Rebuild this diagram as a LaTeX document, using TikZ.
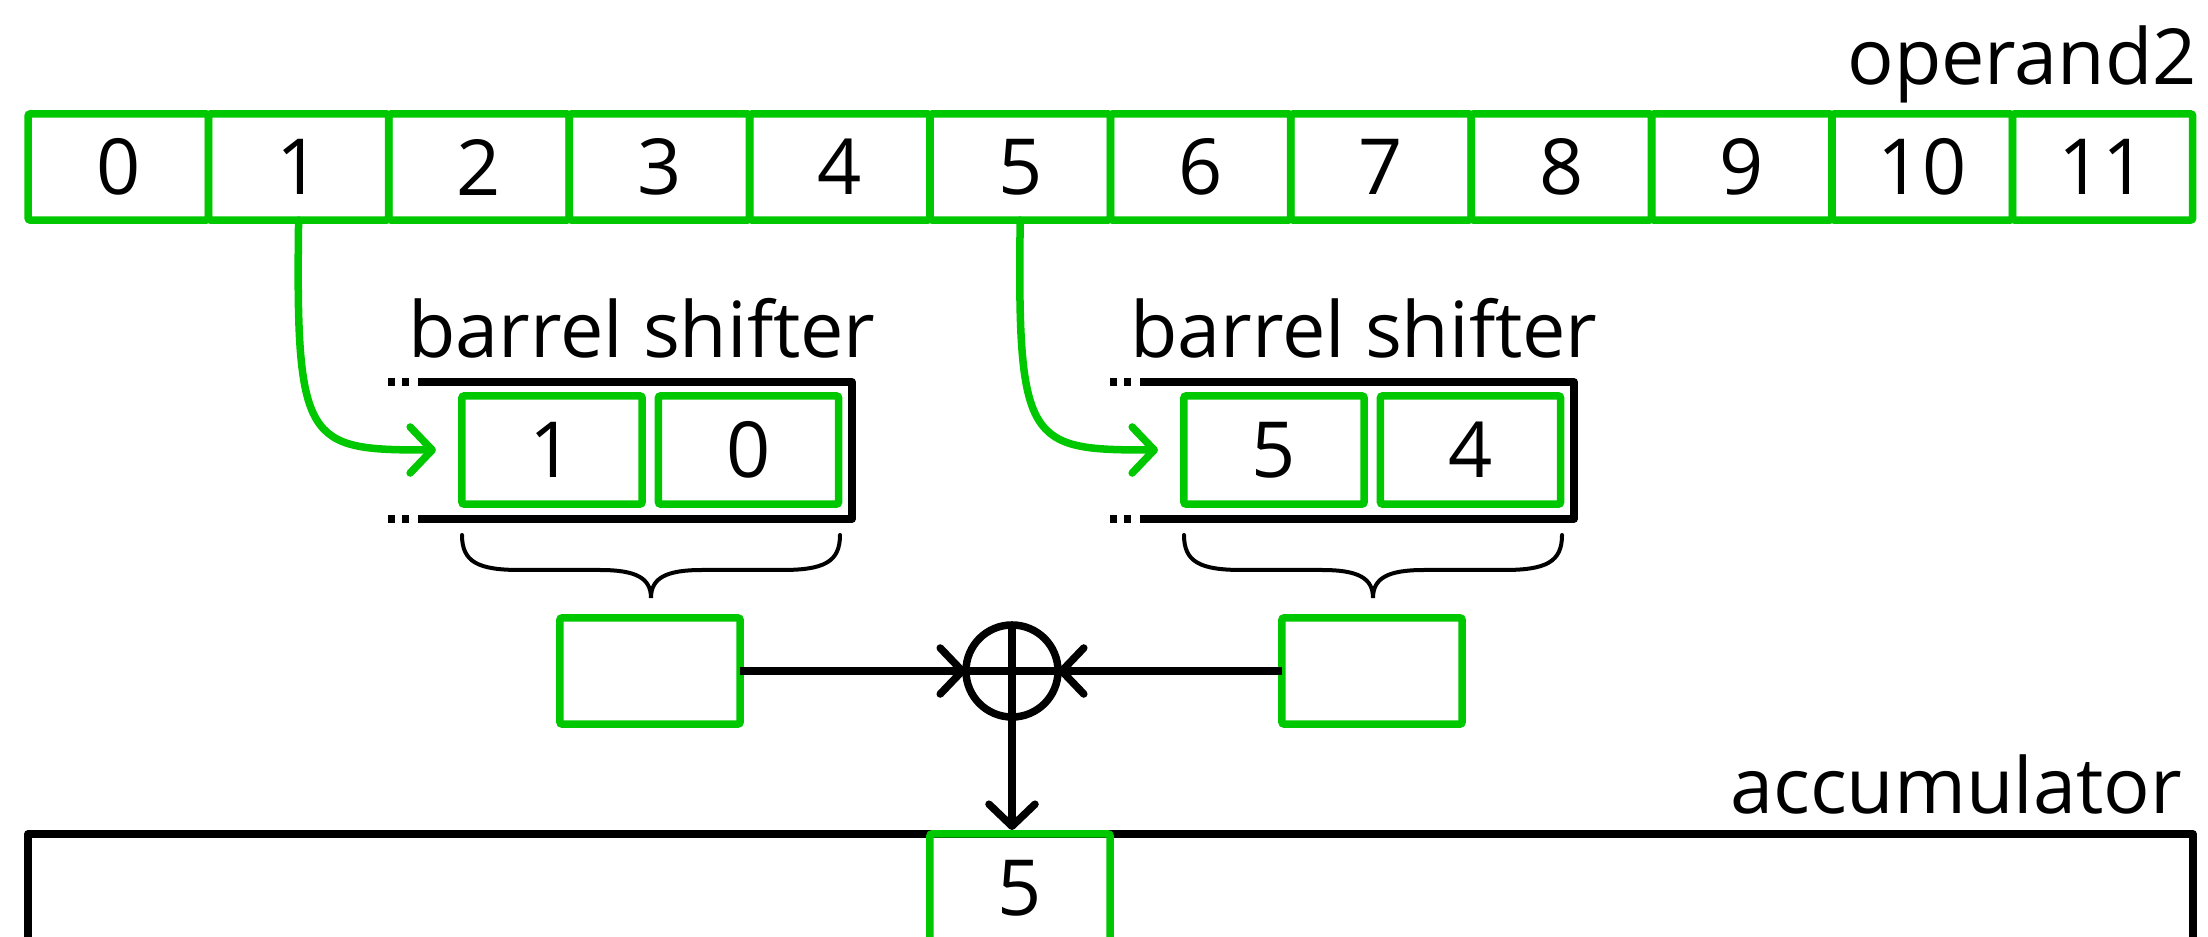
\documentclass[tikz,border=0pt]{standalone}
\usepackage{fontspec}
\setmainfont{Open Sans}
\usetikzlibrary{arrows.meta}
\definecolor{bitgreen}{RGB}{0,200,0}
\newcommand\bigtext{\fontsize{22pt}{26pt}\selectfont}
\tikzset{
  px/.style={x=0.01cm,y=-0.01cm},
  bitcell/.style={draw=bitgreen, line width=0.075cm, rounded corners=0.02cm,
    minimum width=1.80cm, minimum height=1.06cm, inner sep=0pt, outer sep=0pt,
    font=\bigtext},
  lbl/.style={inner sep=0pt, outer sep=0pt, font=\bigtext},
  frame/.style={draw=black, line width=0.075cm, line join=round},
  dotcap/.style={draw=black, line width=0.075cm, line cap=butt},
  bracepath/.style={draw=black, line width=0.04cm, line cap=round},
  tipbarb/.tip={Straight Barb[length=0.22cm, width=0.46cm, round]},
  wire/.style={draw=black, line width=0.075cm},
  greenwire/.style={draw=bitgreen, line width=0.075cm, line cap=round},
  xorgate/.style={circle, draw=black, line width=0.075cm, minimum size=0.92cm,
    inner sep=0pt, outer sep=0pt},
}
% one barrel shifter: #1 name prefix, #2 upper bit, #3 lower bit
\newcommand\shiftermodule[3]{%
  \node[lbl, anchor=base west] (#1lbl) at (408,358) {barrel shifter};
  \draw[frame] (418,382) -- (852,382) -- (852,519) -- (418,519);
  \draw[dotcap] (388,382) -- (395,382) (402,382) -- (409,382)
                (388,519) -- (395,519) (402,519) -- (409,519);
  \node[bitcell, minimum height=1.08cm] (#1hi) at (552,450) {#2};
  \node[bitcell, minimum height=1.08cm] (#1lo) at (748.5,450) {#3};
  \draw[bracepath] (462,535) .. controls (462,562) and (478,570) .. (520,570)
    -- (600,570) .. controls (636,570) and (651,578) .. (651,598)
    .. controls (651,578) and (666,570) .. (702,570)
    -- (782,570) .. controls (824,570) and (840,562) .. (840,535);
  \node[bitcell] (#1out) at (650,671) {};
}
\begin{document}
\begin{tikzpicture}[px]
\clip (0,0) rectangle (2208,937);
\fill[white] (0,0) rectangle (2208,937);

% operand2 register
\foreach \i in {0,...,11} {
  \node[bitcell] (op\i) at ({118.2+180.4*\i},167) {\i};
}
\node[lbl, anchor=base east] (oplabel) at (2197,85) {operand2};

% the two barrel shifters
\shiftermodule{A}{1}{0}
\begin{scope}[xshift=7.216cm]
  \shiftermodule{B}{5}{4}
\end{scope}

% accumulator register
\draw[frame] (28,960) -- (28,834) -- (2193,834) -- (2193,960);
\node[lbl, anchor=base east] (acclabel) at (2182,814) {accumulator};
\node[bitcell, minimum height=1.08cm] (acc5) at (1020,888) {5};

% bits fed into the shifters
\draw[greenwire, -{tipbarb}] (op1.south) .. controls +(-3,225) and +(-130,0) .. ([xshift=-0.26cm]Ahi.west);
\draw[greenwire, -{tipbarb}] (op5.south) .. controls +(-3,225) and +(-130,0) .. ([xshift=-0.26cm]Bhi.west);

% xor of the two shifter outputs
\node[xorgate] (xor) at (1012,671) {};
\draw[wire] (xor.west) -- (xor.east) (xor.north) -- (xor.south);
\draw[wire, -{tipbarb}] (Aout.east) -- (xor.west);
\draw[wire, -{tipbarb}] (Bout.west) -- (xor.east);
\draw[wire, -{tipbarb}, shorten >=0.04cm] (xor.south) -- (xor.south |- acc5.north);
\end{tikzpicture}
\end{document}
